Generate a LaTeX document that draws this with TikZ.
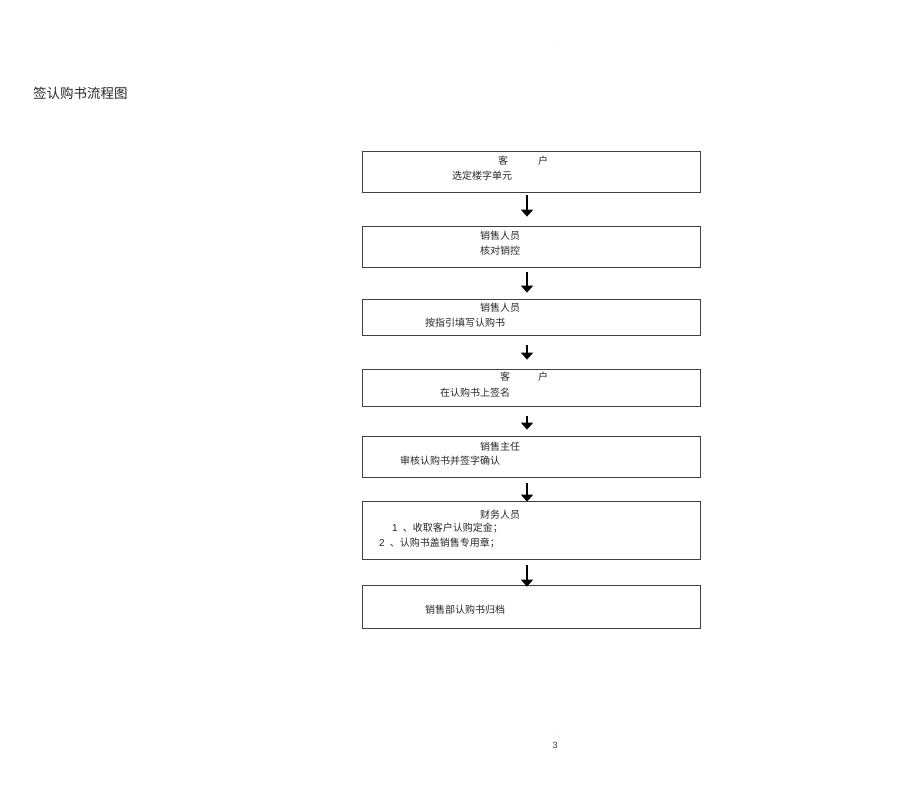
\documentclass[tikz,border=0pt]{standalone}
\usepackage{fontspec}
\setmainfont{Liberation Sans}
\newfontfamily\cjk{Noto Sans CJK SC}
\usetikzlibrary{arrows.meta}
\tikzset{
  stepbox/.style={draw=black!75, line width=0.8pt, minimum width=338pt, inner sep=0pt, anchor=center},
  txt/.style={anchor=west, inner sep=0pt, font=\cjk\fontsize{10}{12}\selectfont, text=black!85},
  arr/.style={line width=1.9pt, -{Triangle[width=12pt,length=7pt]}},
}
\begin{document}
\begin{tikzpicture}[x=1pt,y=-1pt]
\useasboundingbox (0,0) rectangle (920,787);
\node[anchor=west, inner sep=0pt, font=\cjk\fontsize{13.5}{15}\selectfont, text=black!85] (title) at (33,93) {签认购书流程图};
\node[inner sep=0pt, font=\fontsize{5}{6}\selectfont, text=black!50] (dot1) at (555,45) {.};
\node[inner sep=0pt, font=\fontsize{5}{6}\selectfont, text=black!50] (dot2) at (555,734) {.};
\node[inner sep=0pt, font=\fontsize{9}{10}\selectfont, text=black!80] (pg) at (555,745) {3};

\node[stepbox, minimum height=41pt] (b1) at (531,171.5) {};
\node[stepbox, minimum height=41pt] (b2) at (531,246.5) {};
\node[stepbox, minimum height=36pt] (b3) at (531,317) {};
\node[stepbox, minimum height=37pt] (b4) at (531,387.5) {};
\node[stepbox, minimum height=41pt] (b5) at (531,456.5) {};
\node[stepbox, minimum height=58pt] (b6) at (531,530) {};
\node[stepbox, minimum height=43pt] (b7) at (531,606.5) {};

\node[txt] (t1a) at (498,161) {客\hspace{30pt}户};
\node[txt] (t1b) at (452,176) {选定楼字单元};
\node[txt] (t2a) at (480,236) {销售人员};
\node[txt] (t2b) at (480,251) {核对销控};
\node[txt] (t3a) at (480,308) {销售人员};
\node[txt] (t3b) at (425,323) {按指引填写认购书};
\node[txt] (t4a) at (500,377) {客\hspace{28pt}户};
\node[txt] (t4b) at (440,393) {在认购书上签名};
\node[txt] (t5a) at (480,447) {销售主任};
\node[txt] (t5b) at (400,461) {审核认购书并签字确认};
\node[txt] (t6a) at (480,515) {财务人员};
\node[txt] (t6b) at (392,528) {{\rmfamily 1}\hspace{5pt}、收取客户认购定金；};
\node[txt] (t6c) at (379,543) {{\rmfamily 2}\hspace{5pt}、认购书盖销售专用章；};
\node[txt] (t7a) at (425,610) {销售部认购书归档};

\draw[arr] ([xshift=-4pt,yshift=-3pt]b1.south) -- ([xshift=-4pt,yshift=9pt]b2.north);
\draw[arr] ([xshift=-4pt,yshift=-5pt]b2.south) -- ([xshift=-4pt,yshift=6pt]b3.north);
\draw[arr] ([xshift=-4pt,yshift=-10pt]b3.south) -- ([xshift=-4pt,yshift=9pt]b4.north);
\draw[arr] ([xshift=-4pt,yshift=-10pt]b4.south) -- ([xshift=-4pt,yshift=6pt]b5.north);
\draw[arr] ([xshift=-4pt,yshift=-6pt]b5.south) -- ([xshift=-4pt,yshift=-1pt]b6.north);
\draw[arr] ([xshift=-4pt,yshift=-6pt]b6.south) -- ([xshift=-4pt,yshift=-2pt]b7.north);
\end{tikzpicture}
\end{document}
